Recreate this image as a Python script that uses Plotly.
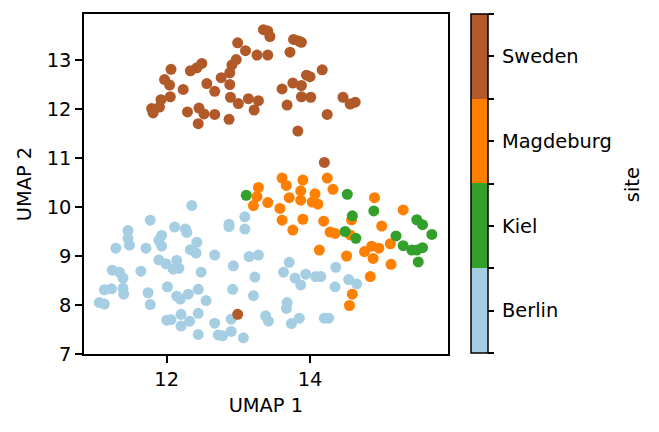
import plotly.graph_objects as go

sites = ["Berlin", "Kiel", "Magdeburg", "Sweden"]
site_colors = ["#a6cee3", "#33a02c", "#ff7f00", "#b15928"]

berlin_x = [12.35, 11.77, 11.46, 11.46, 11.48, 11.29, 11.71, 11.93, 11.89, 11.93,
            12.11, 12.26, 12.28, 12.42, 12.33, 12.41, 11.89, 11.99, 12.14, 12.17,
            12.09, 12.48, 11.24, 11.34, 11.39, 11.64, 11.13, 11.23, 11.39, 11.40,
            12.01, 11.74, 11.77, 12.14, 12.19, 12.30, 12.44, 12.55, 11.06, 11.13,
            12.00, 12.06, 12.20, 12.20, 12.32, 12.44, 12.44, 12.67, 12.93, 12.87,
            12.87, 13.09, 13.09, 13.15, 13.28, 13.23, 12.92, 13.21, 12.67, 12.90,
            13.38, 13.42, 12.72, 12.78, 12.90, 13.07, 13.71, 13.63, 13.79, 13.87,
            13.94, 14.08, 14.15, 14.36, 14.35, 14.54, 14.65, 13.68, 13.67, 13.74,
            13.85, 14.20, 14.26]
berlin_y = [10.03, 9.73, 9.52, 9.36, 9.22, 9.16, 9.16, 9.42, 9.32, 9.20,
            9.59, 9.55, 9.48, 9.28, 9.13, 9.06, 8.92, 8.84, 8.91, 8.75,
            8.73, 8.67, 8.71, 8.67, 8.55, 8.69, 8.31, 8.33, 8.34, 8.22,
            8.37, 8.25, 8.01, 8.18, 8.12, 8.22, 8.32, 8.09, 8.05, 8.02,
            7.69, 7.70, 7.81, 7.57, 7.67, 7.83, 7.40, 9.02, 8.80, 9.65,
            9.60, 9.80, 9.55, 8.99, 9.02, 8.57, 8.32, 8.19, 7.63, 7.71,
            7.78, 7.67, 7.39, 7.37, 7.46, 7.33, 8.87, 8.67, 8.55, 8.41,
            8.63, 8.58, 8.58, 8.77, 8.37, 8.52, 8.43, 8.05, 7.93, 7.62,
            7.73, 7.73, 7.73]

magdeburg_x = [13.61, 13.67, 13.90, 14.24, 14.32, 13.28, 13.26, 13.21, 13.41, 13.71,
               13.87, 13.87, 14.07, 14.03, 14.11, 13.58, 13.61, 13.90, 13.76, 14.19,
               14.28, 14.35, 14.13, 14.58, 14.90, 15.30, 15.00, 14.56, 15.12, 14.86,
               14.96, 14.76, 14.88, 14.51, 15.13, 14.84, 14.59, 14.55]
magdeburg_y = [10.59, 10.44, 10.55, 10.59, 10.36, 10.40, 10.21, 10.03, 10.09, 10.19,
               10.33, 10.14, 10.27, 10.10, 10.06, 9.97, 9.73, 9.75, 9.53, 9.71,
               9.49, 9.46, 9.12, 9.74, 10.19, 9.94, 9.61, 9.43, 9.25, 9.20,
               9.16, 9.09, 8.95, 9.00, 8.83, 8.58, 8.22, 7.99]

kiel_x = [13.11, 14.52, 14.89, 14.59, 15.49, 15.57, 15.70, 14.49, 14.64, 15.20,
          15.30, 15.42, 15.49, 15.57, 15.51]
kiel_y = [10.24, 10.26, 9.92, 9.82, 9.74, 9.64, 9.44, 9.50, 9.36, 9.41,
          9.21, 9.12, 9.12, 9.17, 8.88]

sweden_x = [13.35, 13.41, 13.44, 13.77, 13.84, 13.88, 12.99, 13.10, 13.26, 13.41,
            13.72, 12.97, 12.91, 12.49, 12.42, 12.33, 12.06, 12.88, 12.76, 11.97,
            12.04, 12.56, 12.88, 12.23, 12.67, 13.95, 14.00, 14.17, 13.76, 13.88,
            13.61, 13.88, 14.01, 12.05, 11.92, 12.89, 13.14, 13.28, 13.00, 14.46,
            14.56, 14.63, 13.68, 11.79, 11.90, 11.81, 12.29, 12.45, 12.52, 12.67,
            13.22, 14.24, 12.87, 12.44, 13.83, 14.20, 12.99]
sweden_y = [13.62, 13.59, 13.48, 13.42, 13.39, 13.36, 13.35, 13.19, 13.10, 13.10,
            13.16, 13.01, 12.90, 12.93, 12.84, 12.78, 12.81, 12.74, 12.64, 12.60,
            12.49, 12.52, 12.50, 12.40, 12.36, 12.69, 12.66, 12.80, 12.53, 12.48,
            12.41, 12.25, 12.24, 12.25, 12.19, 12.24, 12.21, 12.17, 12.11, 12.24,
            12.10, 12.14, 12.08, 12.01, 12.04, 11.92, 11.94, 12.02, 11.90, 11.89,
            11.98, 11.89, 11.79, 11.70, 11.55, 10.91, 7.81]

x_ticks = [12, 14]
y_ticks = [7, 8, 9, 10, 11, 12, 13]

# draw order: Berlin, Magdeburg, Kiel, Sweden
xs = berlin_x + magdeburg_x + kiel_x + sweden_x
ys = berlin_y + magdeburg_y + kiel_y + sweden_y
codes = ([0] * len(berlin_x) + [2] * len(magdeburg_x) + [1] * len(kiel_x)
         + [3] * len(sweden_x))

n = len(sites)
colorscale = []
for i, c in enumerate(site_colors):
    colorscale.append([i / n, c])
    colorscale.append([(i + 1) / n, c])

cb_vals = []
cb_text = []
for i, s in enumerate(sites):
    cb_vals += [i - 0.5, i]
    cb_text += ["", "\u2009" + s]
cb_vals.append(n - 0.5)
cb_text.append("")

FONT = "DejaVu Sans"
FS = 19.4
W, H = 659, 432

fig = go.Figure()
fig.add_trace(go.Scatter(
    x=xs, y=ys, mode="markers",
    marker=dict(
        size=11, color=codes, colorscale=colorscale, cmin=-0.5, cmax=n - 0.5,
        line=dict(width=0),
        colorbar=dict(
            x=471 / W, xanchor="left", xpad=0, ypad=0,
            y=1 - 183.5 / H, yanchor="middle",
            len=339, lenmode="pixels", thickness=17, thicknessmode="pixels",
            outlinewidth=1.5, outlinecolor="black",
            tickmode="array", tickvals=cb_vals, ticktext=cb_text,
            ticks="outside", ticklen=6, tickwidth=1.5, tickcolor="black",
            tickfont=dict(family=FONT, size=FS, color="black"),
        ),
    ),
    showlegend=False, hoverinfo="skip",
))

axis_common = dict(
    showgrid=False, zeroline=False, showline=True, linecolor="black",
    linewidth=1.5, mirror=True, ticks="outside", ticklen=7, tickwidth=1.5,
    tickcolor="black", tickfont=dict(family=FONT, size=FS, color="black"),
    title_font=dict(family=FONT, size=FS, color="black"), automargin=False,
)

fig.update_layout(
    width=W, height=H,
    margin=dict(l=0, r=0, t=0, b=0, autoexpand=False),
    paper_bgcolor="white", plot_bgcolor="white",
    font=dict(family=FONT, size=FS, color="black"),
    xaxis=dict(axis_common, domain=[84 / W, 447.7 / W], range=[10.846, 15.921],
               tickmode="array", tickvals=x_ticks,
               title=dict(text="UMAP 1", standoff=8)),
    yaxis=dict(axis_common, domain=[1 - 354 / H, 1 - 14 / H], range=[7, 13.939],
               tickmode="array", tickvals=y_ticks,
               title=dict(text="UMAP 2", standoff=10)),
    annotations=[dict(
        text="site", x=632.5 / W, y=1 - 184.7 / H, xref="paper", yref="paper",
        xanchor="center", yanchor="middle", showarrow=False, textangle=-90,
        font=dict(family=FONT, size=FS, color="black"),
    )],
)

fig.write_html("out.html")
